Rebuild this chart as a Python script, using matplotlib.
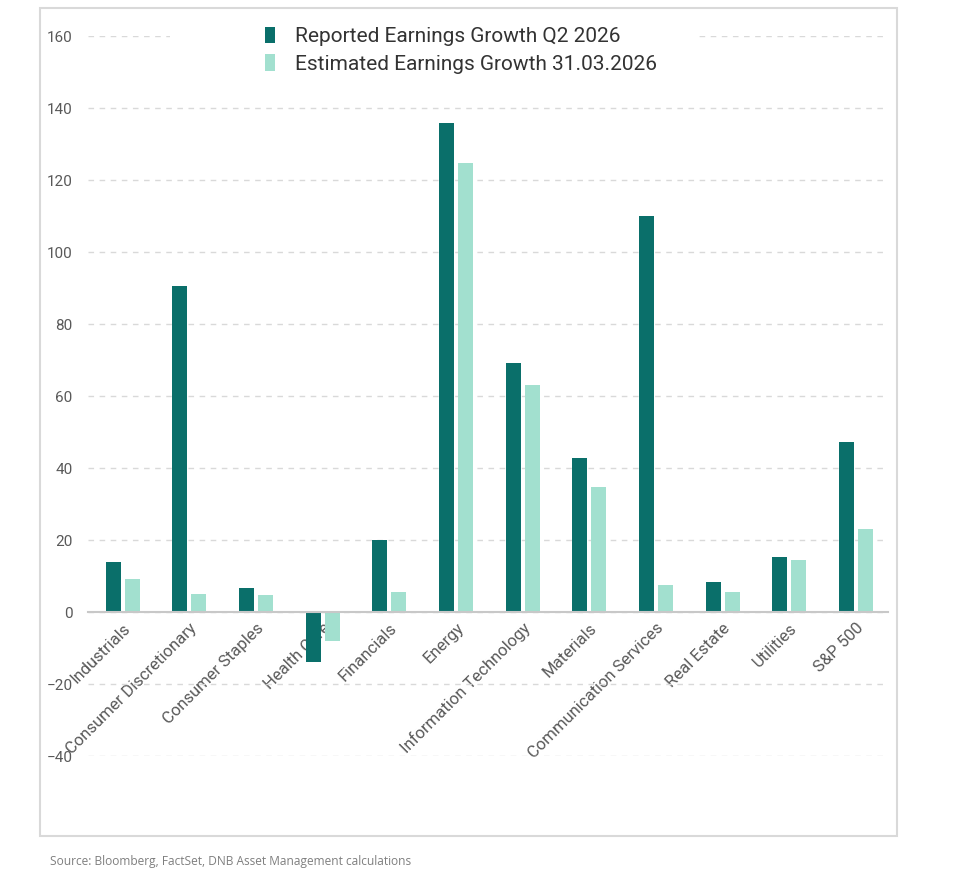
import matplotlib.pyplot as plt
import numpy as np
from matplotlib.patches import Rectangle

sectors = ['Industrials', 'Consumer Discretionary', 'Consumer Staples', 'Health Care',
           'Financials', 'Energy', 'Information Technology', 'Materials',
           'Communication Services', 'Real Estate', 'Utilities', 'S&P 500']
reported = [13.8, 90.6, 6.7, -13.9, 20.0, 135.8, 69.2, 42.8, 110.0, 8.3, 15.3, 47.2]
estimated = [9.3, 5.0, 4.7, -8.0, 5.6, 124.7, 63.0, 34.7, 7.5, 5.6, 14.4, 23.0]
yticks = [-40, -20, 0, 20, 40, 60, 80, 100, 120, 140, 160]

dark = '#0a6f6a'
light = '#a2e0cf'
grey = '#595959'

plt.rcParams['font.family'] = ['Roboto', 'DejaVu Sans']

W, H = 961, 873
fig = plt.figure(figsize=(W / 100, H / 100), dpi=100)
ax = fig.add_axes([88 / W, 1 - 756 / H, 800 / W, 720 / H])

x = np.arange(len(sectors))
bw = 0.225
off = 0.142
ax.bar(x - off, reported, bw, color=dark, label='Reported Earnings Growth Q2 2026', zorder=2)
ax.bar(x + off, estimated, bw, color=light, label='Estimated Earnings Growth 31.03.2026', zorder=2)

ax.set_xlim(-0.52, 11.48)
ax.set_ylim(-40, 160)
ax.set_yticks(yticks)
ax.set_axisbelow(True)
ax.yaxis.grid(True, color='#d9d9d9', linestyle=(0, (4, 4)), linewidth=1)

for s in ['left', 'right', 'top']:
    ax.spines[s].set_visible(False)
ax.spines['bottom'].set_position(('data', 0))
ax.spines['bottom'].set_color('#c8c8c8')
ax.spines['bottom'].set_linewidth(1.5)
ax.spines['bottom'].set_zorder(3)

ax.tick_params(axis='y', length=0, pad=11, labelsize=11, labelcolor=grey)
ax.tick_params(axis='x', length=0, pad=6, labelsize=12, labelcolor=grey)
ax.set_xticks(x)
ax.set_xticklabels(sectors, rotation=45, ha='right', rotation_mode='anchor')

# white strip behind the legend (hides the 160 gridline there)
ax.add_patch(Rectangle((170 / W, 1 - 50 / H), 525 / W, 30 / H, transform=fig.transFigure,
                       facecolor='white', edgecolor='none', clip_on=False, zorder=1))

leg = ax.legend(loc='upper left', bbox_to_anchor=(250 / W, 1 - 12 / H),
                bbox_transform=fig.transFigure, frameon=False, fontsize=15,
                handlelength=0.5, handleheight=0.85, handletextpad=0.95,
                labelspacing=0.4, borderpad=0.2)
for t in leg.get_texts():
    t.set_color('#333333')

# outer frame
fig.patches.append(Rectangle((40 / W, 1 - 836 / H), 857 / W, 828 / H, transform=fig.transFigure,
                             facecolor='none', edgecolor='#d9d9d9', linewidth=1.5))

fig.text(50 / W, 1 - 862 / H, 'Source: Bloomberg, FactSet, DNB Asset Management calculations',
         fontsize=8.6, color='#7f7f7f', va='center', family=['Open Sans', 'DejaVu Sans'])

fig.savefig('out.png', dpi=100)
